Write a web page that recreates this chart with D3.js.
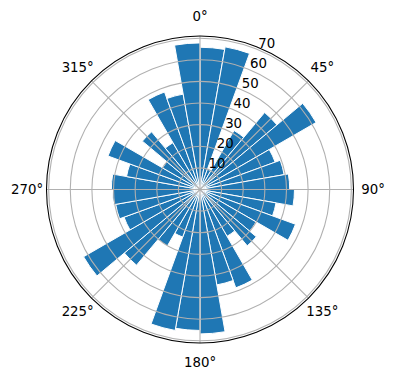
<!DOCTYPE html>
<html>
<head>
<meta charset="utf-8">
<script src="https://cdn.jsdelivr.net/npm/d3@7"></script>
<style>
  html, body { margin: 0; padding: 0; background: #fff; }
  svg { display: block; }
  text { font-family: "DejaVu Sans", sans-serif; font-size: 13.33px; fill: #000; }
</style>
</head>
<body>
<svg id="chart" width="396" height="380"></svg>
<script>
// bar centre angles (degrees, clockwise from north)
const angles = [5,15,25,35,45,55,65,75,85,95,105,115,125,135,145,155,165,175,
                185,195,205,215,225,235,245,255,265,275,285,295,305,315,325,335,345,355];
const values = [65.8,67.0,10.0,31.5,46.5,62.0,37.0,39.5,41.5,43.7,35.7,47.0,30.0,34.0,25.0,48.4,44.8,66.8,
                65.2,66.2,23.4,30.2,45.7,62.2,37.4,39.6,40.5,41.0,34.5,45.3,20.0,34.8,25.0,48.0,44.8,67.8];
const barWidthDeg = 10;
const thetaTicks = [0,45,90,135,180,225,270,315];
const rTicks = [10,20,30,40,50,60,70];
const rMax = 71;

const cx = 200, cy = 189.5, R = 153.5;
const svg = d3.select("#chart");
const g = svg.append("g").attr("transform", `translate(${cx},${cy})`);
const r = d3.scaleLinear().domain([0, rMax]).range([0, R]);
const rad = d => d * Math.PI / 180;

// bars
const arc = d3.arc()
  .innerRadius(0)
  .outerRadius(d => r(d.v))
  .startAngle(d => rad(d.a - barWidthDeg / 2))
  .endAngle(d => rad(d.a + barWidthDeg / 2));
g.append("g").selectAll("path")
  .data(angles.map((a, i) => ({a, v: values[i]})))
  .join("path")
  .attr("d", arc)
  .attr("fill", "#1f77b4")
  .attr("stroke", "#ffffff")
  .attr("stroke-width", 1)
  .attr("stroke-linejoin", "miter");

// grid circles
g.append("g").selectAll("circle")
  .data(rTicks)
  .join("circle")
  .attr("r", d => r(d))
  .attr("fill", "none")
  .attr("stroke", "#b0b0b0")
  .attr("stroke-width", 1.07);

// theta grid lines
g.append("g").selectAll("line")
  .data(thetaTicks)
  .join("line")
  .attr("x1", 0).attr("y1", 0)
  .attr("x2", d => R * Math.sin(rad(d)))
  .attr("y2", d => -R * Math.cos(rad(d)))
  .attr("stroke", "#b0b0b0")
  .attr("stroke-width", 1.07);

// outer spine
g.append("circle").attr("r", R).attr("fill", "none").attr("stroke", "#000").attr("stroke-width", 1.07);

// theta labels
const labR = R + 19.5;
g.append("g").selectAll("text")
  .data(thetaTicks)
  .join("text")
  .attr("x", d => labR * Math.sin(rad(d)))
  .attr("y", d => -labR * Math.cos(rad(d)))
  .attr("text-anchor", "middle")
  .attr("dominant-baseline", "central")
  .text(d => d + "°");

// radial labels at 22.5°
const rl = rad(22.5);
g.append("g").selectAll("text")
  .data(rTicks)
  .join("text")
  .attr("x", d => r(d) * Math.sin(rl) + 8.8)
  .attr("y", d => -r(d) * Math.cos(rl) - 6)
  .attr("text-anchor", "middle")
  .attr("dominant-baseline", "central")
  .text(d => d);
</script>
</body>
</html>
